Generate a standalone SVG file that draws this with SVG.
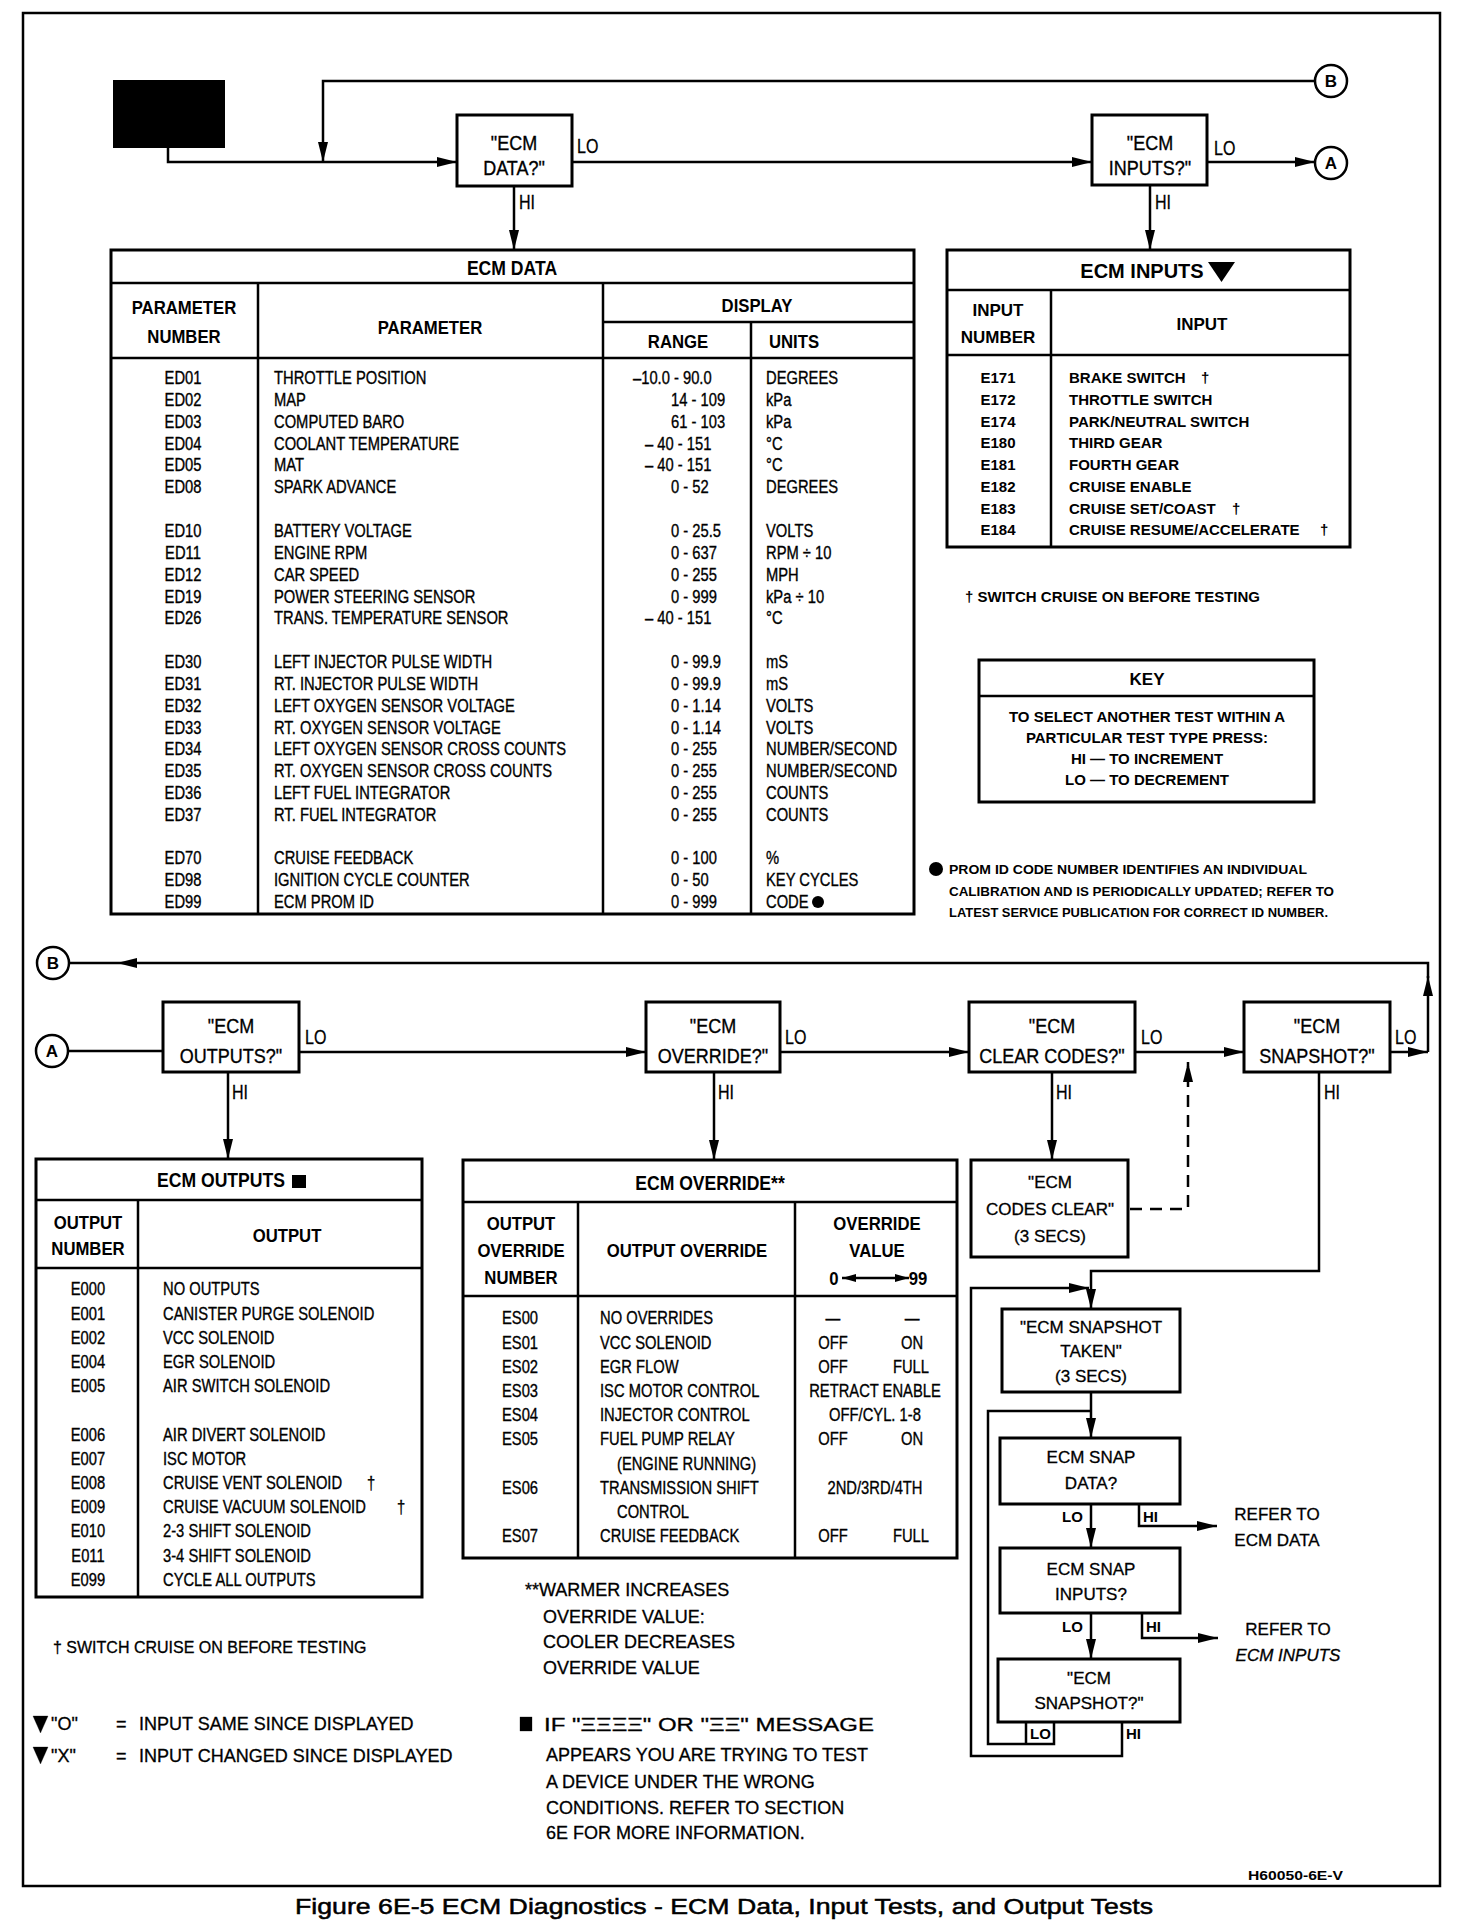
<svg xmlns="http://www.w3.org/2000/svg" width="1472" height="1924" viewBox="0 0 1472 1924">
<style>
text { font-family: "Liberation Sans", Arial, Helvetica, sans-serif; fill: #000; }
.fb { font-size: 21px; text-anchor: middle; stroke: #000; stroke-width: 0.35px; }
.lb { font-size: 20px; stroke: #000; stroke-width: 0.3px; }
.tt { font-size: 20px; font-weight: bold; text-anchor: middle; }
.th { font-size: 19px; font-weight: bold; text-anchor: middle; }
.thi { font-size: 17px; font-weight: bold; text-anchor: middle; }
.tc { font-size: 18px; stroke: #000; stroke-width: 0.35px; }
.tdb { font-size: 15px; font-weight: bold; }
.m { text-anchor: middle; }
.n18 { font-size: 18px; stroke: #000; stroke-width: 0.3px; }
.sn { font-size: 17px; text-anchor: middle; stroke: #000; stroke-width: 0.3px; }
.sl { font-size: 15px; font-weight: bold; }
.box { fill: #fff; stroke: #000; stroke-width: 3; }
.tbl { fill: #fff; stroke: #000; stroke-width: 3; }
.dv { stroke: #000; stroke-width: 2.5; fill: none; }
.ln { fill: none; stroke: #000; stroke-width: 2.5; }
.ar { marker-end: url(#ah); }
.circ { fill: #fff; stroke: #000; stroke-width: 2.5; }
.cl { font-size: 17px; font-weight: bold; text-anchor: middle; }
</style>
<defs>
<marker id="ah" viewBox="0 0 20 10" refX="20" refY="5" markerWidth="20" markerHeight="10" markerUnits="userSpaceOnUse" orient="auto"><path d="M0,0 L20,5 L0,10 z" fill="#000"/></marker>
<marker id="ah2" viewBox="0 0 14 8" refX="14" refY="4" markerWidth="14" markerHeight="8" markerUnits="userSpaceOnUse" orient="auto-start-reverse"><path d="M0,0 L14,4 L0,8 z" fill="#000"/></marker>
</defs>
<rect x="0" y="0" width="1472" height="1924" fill="#fff"/>
<rect x="23" y="13" width="1417" height="1873" fill="none" stroke="#000" stroke-width="2.5"/>

<g id="connectors">
<path class="ln ar" d="M168,148 V162 H457"/>
<path class="ln ar" d="M1315,81 H323 V162"/>
<path class="ln ar" d="M572,162 H1092"/>
<path class="ln ar" d="M1207,162 H1315"/>
<path class="ln ar" d="M514,186 V250"/>
<path class="ln ar" d="M1150,185 V250"/>
<path class="ln ar" d="M1390,1052 H1428"/>
<path class="ln ar" d="M1428,1052 V976"/>
<path class="ln ar" d="M1428,978 V963 H117"/>
<path class="ln" d="M117,963 H69"/>
<path class="ln" d="M68,1051 H163"/>
<path class="ln ar" d="M299,1052 H646"/>
<path class="ln ar" d="M780,1052 H969"/>
<path class="ln ar" d="M1135,1052 H1244"/>
<path class="ln ar" d="M228,1072 V1159"/>
<path class="ln ar" d="M714,1072 V1160"/>
<path class="ln ar" d="M1052,1072 V1160"/>
<path class="ln ar" stroke-dasharray="12 8" d="M1130,1209 H1188 V1062"/>
<path class="ln ar" d="M1319,1072 V1271 H1091 V1309"/>
<path class="ln ar" d="M1122,1722 V1756 H971 V1288 H1089"/>
<path class="ln" d="M1054,1722 V1744 H988 V1411 H1091"/>
<path class="ln" d="M1026,1722 V1744"/>
<path class="ln ar" d="M1091,1392 V1438"/>
<path class="ln ar" d="M1091,1504 V1548"/>
<path class="ln ar" d="M1091,1613 V1659"/>
<path class="ln ar" d="M1139,1504 V1526 H1217"/>
<path class="ln ar" d="M1142,1613 V1638 H1218"/>
<g class="lb" transform="scale(0.8,1)">
<text x="721.25" y="153">LO</text>
<text x="1517.5" y="155">LO</text>
<text x="648.75" y="209">HI</text>
<text x="1443.75" y="209">HI</text>
<text x="381.25" y="1044">LO</text>
<text x="981.25" y="1044">LO</text>
<text x="1426.25" y="1044">LO</text>
<text x="1743.75" y="1044">LO</text>
<text x="290" y="1099">HI</text>
<text x="897.5" y="1099">HI</text>
<text x="1320" y="1099">HI</text>
<text x="1655" y="1099">HI</text>
</g>
<text class="sl" x="1062" y="1522">LO</text>
<text class="sl" x="1143" y="1522">HI</text>
<text class="sl" x="1062" y="1632">LO</text>
<text class="sl" x="1146" y="1632">HI</text>
<text class="sl" x="1030" y="1739">LO</text>
<text class="sl" x="1126" y="1739">HI</text>
</g>

<g id="start"><rect x="113" y="80" width="112" height="68" fill="#000"/></g>
<g id="circle-b-top"><circle class="circ" cx="1331" cy="81" r="16"/><text class="cl" x="1331" y="87">B</text></g>
<g id="circle-a-top"><circle class="circ" cx="1331" cy="163" r="16"/><text class="cl" x="1331" y="169">A</text></g>
<g id="ecm-data-q"><rect class="box" x="457" y="115" width="115" height="71"/><g class="fb" transform="scale(0.857,1)"><text x="599.77" y="150">"ECM</text><text x="599.77" y="175">DATA?"</text></g></g>
<g id="ecm-inputs-q"><rect class="box" x="1092" y="115" width="115" height="70"/><g class="fb" transform="scale(0.857,1)"><text x="1341.9" y="150">"ECM</text><text x="1341.9" y="175">INPUTS?"</text></g></g>

<g id="ecm-data-table">
<rect class="tbl" x="111" y="250" width="803" height="664"/>
<path class="dv" d="M111,283 H914 M111,358 H914 M603,322 H914 M258,283 V914 M603,283 V914 M751,322 V914"/>
<g transform="scale(0.88,1)">
<text class="tt" x="581.82" y="275">ECM DATA</text>
<text class="th" x="209.09" y="314">PARAMETER</text>
<text class="th" x="209.09" y="343">NUMBER</text>
<text class="th" x="488.64" y="334">PARAMETER</text>
<text class="th" x="860.23" y="312">DISPLAY</text>
<text class="th" x="770.45" y="348">RANGE</text>
<text class="th" x="902.27" y="348">UNITS</text>
</g>
<g class="tc" transform="scale(0.82,1)">
<text class="m" x="223.17" y="384.5">ED01</text><text x="334.15" y="384.5">THROTTLE POSITION</text><text x="771.95" y="384.5">–10.0 - 90.0</text><text x="934.15" y="384.5">DEGREES</text>
<text class="m" x="223.17" y="406">ED02</text><text x="334.15" y="406">MAP</text><text x="818.29" y="406">14 - 109</text><text x="934.15" y="406">kPa</text>
<text class="m" x="223.17" y="428">ED03</text><text x="334.15" y="428">COMPUTED BARO</text><text x="818.29" y="428">61 - 103</text><text x="934.15" y="428">kPa</text>
<text class="m" x="223.17" y="450">ED04</text><text x="334.15" y="450">COOLANT TEMPERATURE</text><text x="786.59" y="450">– 40 - 151</text><text x="934.15" y="450">°C</text>
<text class="m" x="223.17" y="471.5">ED05</text><text x="334.15" y="471.5">MAT</text><text x="786.59" y="471.5">– 40 - 151</text><text x="934.15" y="471.5">°C</text>
<text class="m" x="223.17" y="493.5">ED08</text><text x="334.15" y="493.5">SPARK ADVANCE</text><text x="818.29" y="493.5">0 - 52</text><text x="934.15" y="493.5">DEGREES</text>
<text class="m" x="223.17" y="537.5">ED10</text><text x="334.15" y="537.5">BATTERY VOLTAGE</text><text x="818.29" y="537.5">0 - 25.5</text><text x="934.15" y="537.5">VOLTS</text>
<text class="m" x="223.17" y="559">ED11</text><text x="334.15" y="559">ENGINE RPM</text><text x="818.29" y="559">0 - 637</text><text x="934.15" y="559">RPM ÷ 10</text>
<text class="m" x="223.17" y="581">ED12</text><text x="334.15" y="581">CAR SPEED</text><text x="818.29" y="581">0 - 255</text><text x="934.15" y="581">MPH</text>
<text class="m" x="223.17" y="603">ED19</text><text x="334.15" y="603">POWER STEERING SENSOR</text><text x="818.29" y="603">0 - 999</text><text x="934.15" y="603">kPa ÷ 10</text>
<text class="m" x="223.17" y="624.5">ED26</text><text x="334.15" y="624.5">TRANS. TEMPERATURE SENSOR</text><text x="786.59" y="624.5">– 40 - 151</text><text x="934.15" y="624.5">°C</text>
<text class="m" x="223.17" y="668.5">ED30</text><text x="334.15" y="668.5">LEFT INJECTOR PULSE WIDTH</text><text x="818.29" y="668.5">0 - 99.9</text><text x="934.15" y="668.5">mS</text>
<text class="m" x="223.17" y="690">ED31</text><text x="334.15" y="690">RT. INJECTOR PULSE WIDTH</text><text x="818.29" y="690">0 - 99.9</text><text x="934.15" y="690">mS</text>
<text class="m" x="223.17" y="712">ED32</text><text x="334.15" y="712">LEFT OXYGEN SENSOR VOLTAGE</text><text x="818.29" y="712">0 - 1.14</text><text x="934.15" y="712">VOLTS</text>
<text class="m" x="223.17" y="734">ED33</text><text x="334.15" y="734">RT. OXYGEN SENSOR VOLTAGE</text><text x="818.29" y="734">0 - 1.14</text><text x="934.15" y="734">VOLTS</text>
<text class="m" x="223.17" y="755.5">ED34</text><text x="334.15" y="755.5">LEFT OXYGEN SENSOR CROSS COUNTS</text><text x="818.29" y="755.5">0 - 255</text><text x="934.15" y="755.5">NUMBER/SECOND</text>
<text class="m" x="223.17" y="777.5">ED35</text><text x="334.15" y="777.5">RT. OXYGEN SENSOR CROSS COUNTS</text><text x="818.29" y="777.5">0 - 255</text><text x="934.15" y="777.5">NUMBER/SECOND</text>
<text class="m" x="223.17" y="799">ED36</text><text x="334.15" y="799">LEFT FUEL INTEGRATOR</text><text x="818.29" y="799">0 - 255</text><text x="934.15" y="799">COUNTS</text>
<text class="m" x="223.17" y="821">ED37</text><text x="334.15" y="821">RT. FUEL INTEGRATOR</text><text x="818.29" y="821">0 - 255</text><text x="934.15" y="821">COUNTS</text>
<text class="m" x="223.17" y="864.5">ED70</text><text x="334.15" y="864.5">CRUISE FEEDBACK</text><text x="818.29" y="864.5">0 - 100</text><text x="934.15" y="864.5">%</text>
<text class="m" x="223.17" y="886.5">ED98</text><text x="334.15" y="886.5">IGNITION CYCLE COUNTER</text><text x="818.29" y="886.5">0 - 50</text><text x="934.15" y="886.5">KEY CYCLES</text>
<text class="m" x="223.17" y="908">ED99</text><text x="334.15" y="908">ECM PROM ID</text><text x="818.29" y="908">0 - 999</text><text x="934.15" y="908">CODE</text>
</g>
<circle cx="818" cy="902" r="6" fill="#000"/>
</g>

<g id="ecm-inputs-table">
<rect class="tbl" x="947" y="250" width="403" height="297"/>
<path class="dv" d="M947,290 H1350 M947,355 H1350 M1051,290 V547"/>
<text class="tt" x="1142" y="278" font-size="18">ECM INPUTS</text>
<polygon points="1208,262 1235,262 1221.5,282" fill="#000"/>
<text class="thi" x="998" y="316">INPUT</text>
<text class="thi" x="998" y="343">NUMBER</text>
<text class="thi" x="1202" y="330">INPUT</text>
<g class="tdb">
<text class="m" x="998" y="383">E171</text><text x="1069" y="383">BRAKE SWITCH</text><text x="1201" y="383">†</text>
<text class="m" x="998" y="405">E172</text><text x="1069" y="405">THROTTLE SWITCH</text>
<text class="m" x="998" y="427">E174</text><text x="1069" y="427">PARK/NEUTRAL SWITCH</text>
<text class="m" x="998" y="448">E180</text><text x="1069" y="448">THIRD GEAR</text>
<text class="m" x="998" y="470">E181</text><text x="1069" y="470">FOURTH GEAR</text>
<text class="m" x="998" y="492">E182</text><text x="1069" y="492">CRUISE ENABLE</text>
<text class="m" x="998" y="514">E183</text><text x="1069" y="514">CRUISE SET/COAST</text><text x="1232" y="514">†</text>
<text class="m" x="998" y="535">E184</text><text x="1069" y="535">CRUISE RESUME/ACCELERATE</text><text x="1320" y="535">†</text>
</g>
</g>

<g id="inputs-footnote"><text class="tdb" x="965" y="602">† SWITCH CRUISE ON BEFORE TESTING</text></g>

<g id="key">
<rect class="tbl" x="979" y="660" width="335" height="142"/>
<path class="dv" d="M979,696 H1314"/>
<text class="thi" x="1147" y="685">KEY</text>
<g class="tdb">
<text class="m" x="1147" y="722">TO SELECT ANOTHER TEST WITHIN A</text>
<text class="m" x="1147" y="743">PARTICULAR TEST TYPE PRESS:</text>
<text class="m" x="1147" y="764">HI — TO INCREMENT</text>
<text class="m" x="1147" y="785">LO — TO DECREMENT</text>
</g>
</g>

<g id="prom-note">
<circle cx="936" cy="869" r="7" fill="#000"/>
<text x="949" y="874" font-size="13" font-weight="bold" textLength="358" lengthAdjust="spacingAndGlyphs">PROM ID CODE NUMBER IDENTIFIES AN INDIVIDUAL</text>
<text x="949" y="896" font-size="13" font-weight="bold" textLength="385" lengthAdjust="spacingAndGlyphs">CALIBRATION AND IS PERIODICALLY UPDATED; REFER TO</text>
<text x="949" y="917" font-size="13" font-weight="bold" textLength="379" lengthAdjust="spacingAndGlyphs">LATEST SERVICE PUBLICATION FOR CORRECT ID NUMBER.</text>
</g>

<g id="circle-b-mid"><circle class="circ" cx="53" cy="963" r="16"/><text class="cl" x="53" y="969">B</text></g>
<g id="circle-a-mid"><circle class="circ" cx="52" cy="1051" r="16"/><text class="cl" x="52" y="1057">A</text></g>
<g id="ecm-outputs-q"><rect class="box" x="163" y="1002" width="136" height="70"/><g class="fb" transform="scale(0.857,1)"><text x="269.54" y="1033">"ECM</text><text x="269.54" y="1063">OUTPUTS?"</text></g></g>
<g id="ecm-override-q"><rect class="box" x="646" y="1002" width="134" height="70"/><g class="fb" transform="scale(0.857,1)"><text x="831.97" y="1033">"ECM</text><text x="831.97" y="1063">OVERRIDE?"</text></g></g>
<g id="ecm-clear-codes-q"><rect class="box" x="969" y="1002" width="166" height="70"/><g class="fb" transform="scale(0.857,1)"><text x="1227.54" y="1033">"ECM</text><text x="1227.54" y="1063">CLEAR CODES?"</text></g></g>
<g id="ecm-snapshot-q"><rect class="box" x="1244" y="1002" width="146" height="70"/><g class="fb" transform="scale(0.857,1)"><text x="1536.76" y="1033">"ECM</text><text x="1536.76" y="1063">SNAPSHOT?"</text></g></g>

<g id="ecm-outputs-table">
<rect class="tbl" x="36" y="1159" width="386" height="438"/>
<path class="dv" d="M36,1200 H422 M36,1268 H422 M138,1200 V1597"/>
<g transform="scale(0.88,1)">
<text class="tt" x="251.14" y="1187">ECM OUTPUTS</text>
<text class="th" x="100" y="1229">OUTPUT</text>
<text class="th" x="100" y="1255">NUMBER</text>
<text class="th" x="326.14" y="1242">OUTPUT</text>
</g>
<rect x="292" y="1175" width="14" height="13" fill="#000"/>
<g class="tc" transform="scale(0.82,1)">
<text class="m" x="107.32" y="1295.5">E000</text><text x="198.78" y="1295.5">NO OUTPUTS</text>
<text class="m" x="107.32" y="1319.7">E001</text><text x="198.78" y="1319.7">CANISTER PURGE SOLENOID</text>
<text class="m" x="107.32" y="1344">E002</text><text x="198.78" y="1344">VCC SOLENOID</text>
<text class="m" x="107.32" y="1368">E004</text><text x="198.78" y="1368">EGR SOLENOID</text>
<text class="m" x="107.32" y="1392.3">E005</text><text x="198.78" y="1392.3">AIR SWITCH SOLENOID</text>
<text class="m" x="107.32" y="1440.7">E006</text><text x="198.78" y="1440.7">AIR DIVERT SOLENOID</text>
<text class="m" x="107.32" y="1465">E007</text><text x="198.78" y="1465">ISC MOTOR</text>
<text class="m" x="107.32" y="1489">E008</text><text x="198.78" y="1489">CRUISE VENT SOLENOID</text><text x="447.56" y="1489">†</text>
<text class="m" x="107.32" y="1513.3">E009</text><text x="198.78" y="1513.3">CRUISE VACUUM SOLENOID</text><text x="484.15" y="1513.3">†</text>
<text class="m" x="107.32" y="1537.5">E010</text><text x="198.78" y="1537.5">2-3 SHIFT SOLENOID</text>
<text class="m" x="107.32" y="1561.7">E011</text><text x="198.78" y="1561.7">3-4 SHIFT SOLENOID</text>
<text class="m" x="107.32" y="1586">E099</text><text x="198.78" y="1586">CYCLE ALL OUTPUTS</text>
</g>
</g>

<g id="outputs-footnote"><text x="53" y="1653" font-size="16" stroke="#000" stroke-width="0.3">† SWITCH CRUISE ON BEFORE TESTING</text></g>

<g id="ecm-override-table">
<rect class="tbl" x="463" y="1160" width="494" height="398"/>
<path class="dv" d="M463,1202 H957 M463,1296 H957 M578,1202 V1558 M795,1202 V1558"/>
<g transform="scale(0.88,1)">
<text class="tt" x="806.82" y="1190">ECM OVERRIDE**</text>
<text class="th" x="592.05" y="1230">OUTPUT</text>
<text class="th" x="592.05" y="1257">OVERRIDE</text>
<text class="th" x="592.05" y="1284">NUMBER</text>
<text class="th" x="780.68" y="1257">OUTPUT OVERRIDE</text>
<text class="th" x="996.59" y="1230">OVERRIDE</text>
<text class="th" x="996.59" y="1257">VALUE</text>
<text class="th" x="947.73" y="1285">0</text>
<text class="th" x="1043.18" y="1285">99</text>
</g>
<path class="ln" d="M842,1278 H909" marker-start="url(#ah2)" marker-end="url(#ah2)"/>
<g class="tc" transform="scale(0.82,1)">
<text class="m" x="634.15" y="1324.5">ES00</text><text x="731.71" y="1324.5">NO OVERRIDES</text><text class="m" x="1015.85" y="1324.5">—</text><text class="m" x="1112.2" y="1324.5">—</text>
<text class="m" x="634.15" y="1348.7">ES01</text><text x="731.71" y="1348.7">VCC SOLENOID</text><text class="m" x="1015.85" y="1348.7">OFF</text><text class="m" x="1112.2" y="1348.7">ON</text>
<text class="m" x="634.15" y="1373">ES02</text><text x="731.71" y="1373">EGR FLOW</text><text class="m" x="1015.85" y="1373">OFF</text><text class="m" x="1110.98" y="1373">FULL</text>
<text class="m" x="634.15" y="1397">ES03</text><text x="731.71" y="1397">ISC MOTOR CONTROL</text><text class="m" x="1067.07" y="1397">RETRACT ENABLE</text>
<text class="m" x="634.15" y="1421.3">ES04</text><text x="731.71" y="1421.3">INJECTOR CONTROL</text><text class="m" x="1067.07" y="1421.3">OFF/CYL. 1-8</text>
<text class="m" x="634.15" y="1445.5">ES05</text><text x="731.71" y="1445.5">FUEL PUMP RELAY</text><text class="m" x="1015.85" y="1445.5">OFF</text><text class="m" x="1112.2" y="1445.5">ON</text>
<text x="752.44" y="1469.7">(ENGINE RUNNING)</text>
<text class="m" x="634.15" y="1494">ES06</text><text x="731.71" y="1494">TRANSMISSION SHIFT</text><text class="m" x="1067.07" y="1494">2ND/3RD/4TH</text>
<text x="752.44" y="1518">CONTROL</text>
<text class="m" x="634.15" y="1542.3">ES07</text><text x="731.71" y="1542.3">CRUISE FEEDBACK</text><text class="m" x="1015.85" y="1542.3">OFF</text><text class="m" x="1110.98" y="1542.3">FULL</text>
</g>
</g>

<g id="override-note" class="n18">
<text x="525" y="1596">**WARMER INCREASES</text>
<text x="543" y="1623">OVERRIDE VALUE:</text>
<text x="543" y="1648">COOLER DECREASES</text>
<text x="543" y="1674">OVERRIDE VALUE</text>
</g>

<g id="ecm-codes-clear"><rect class="box" x="971" y="1160" width="157" height="97"/><text class="sn" x="1050" y="1188">"ECM</text><text class="sn" x="1050" y="1215">CODES CLEAR"</text><text class="sn" x="1050" y="1242">(3 SECS)</text></g>
<g id="ecm-snapshot-taken"><rect class="box" x="1002" y="1309" width="178" height="83"/><text class="sn" x="1091" y="1333">"ECM SNAPSHOT</text><text class="sn" x="1091" y="1357">TAKEN"</text><text class="sn" x="1091" y="1382">(3 SECS)</text></g>
<g id="ecm-snap-data"><rect class="box" x="1000" y="1438" width="180" height="66"/><text class="sn" x="1091" y="1463">ECM SNAP</text><text class="sn" x="1091" y="1489">DATA?</text></g>
<g id="ecm-snap-inputs"><rect class="box" x="1000" y="1548" width="180" height="65"/><text class="sn" x="1091" y="1575">ECM SNAP</text><text class="sn" x="1091" y="1600">INPUTS?</text></g>
<g id="ecm-snapshot-final"><rect class="box" x="998" y="1659" width="182" height="63"/><text class="sn" x="1089" y="1684">"ECM</text><text class="sn" x="1089" y="1709">SNAPSHOT?"</text></g>
<g id="refer-data"><text class="sn" x="1277" y="1520">REFER TO</text><text class="sn" x="1277" y="1546">ECM DATA</text></g>
<g id="refer-inputs"><text class="sn" x="1288" y="1635">REFER TO</text><text class="sn" x="1288" y="1661" font-style="italic">ECM INPUTS</text></g>

<g id="legend-inputs" class="n18">
<polygon points="33,1716 48,1716 40.5,1733" fill="#000"/>
<text x="51" y="1730">"O"</text><text x="116" y="1730">=</text><text x="139" y="1730">INPUT SAME SINCE DISPLAYED</text>
<polygon points="33,1747 48,1747 40.5,1764" fill="#000"/>
<text x="51" y="1762">"X"</text><text x="116" y="1762">=</text><text x="139" y="1762">INPUT CHANGED SINCE DISPLAYED</text>
</g>

<g id="outputs-note" class="n18">
<rect x="520" y="1717" width="12" height="14" fill="#000"/>
<text x="544" y="1731" textLength="330" lengthAdjust="spacingAndGlyphs">IF "ΞΞΞΞ" OR "ΞΞ" MESSAGE</text>
<text x="546" y="1761">APPEARS YOU ARE TRYING TO TEST</text>
<text x="546" y="1788">A DEVICE UNDER THE WRONG</text>
<text x="546" y="1814">CONDITIONS. REFER TO SECTION</text>
<text x="546" y="1839">6E FOR MORE INFORMATION.</text>
</g>

<g id="figure-id"><text x="1248" y="1880" font-size="13" font-weight="bold" textLength="95" lengthAdjust="spacingAndGlyphs">H60050-6E-V</text></g>
<g id="caption"><text x="295" y="1914" font-size="22" stroke="#000" stroke-width="0.5" textLength="858" lengthAdjust="spacingAndGlyphs">Figure 6E-5 ECM Diagnostics - ECM Data, Input Tests, and Output Tests</text></g>
</svg>
